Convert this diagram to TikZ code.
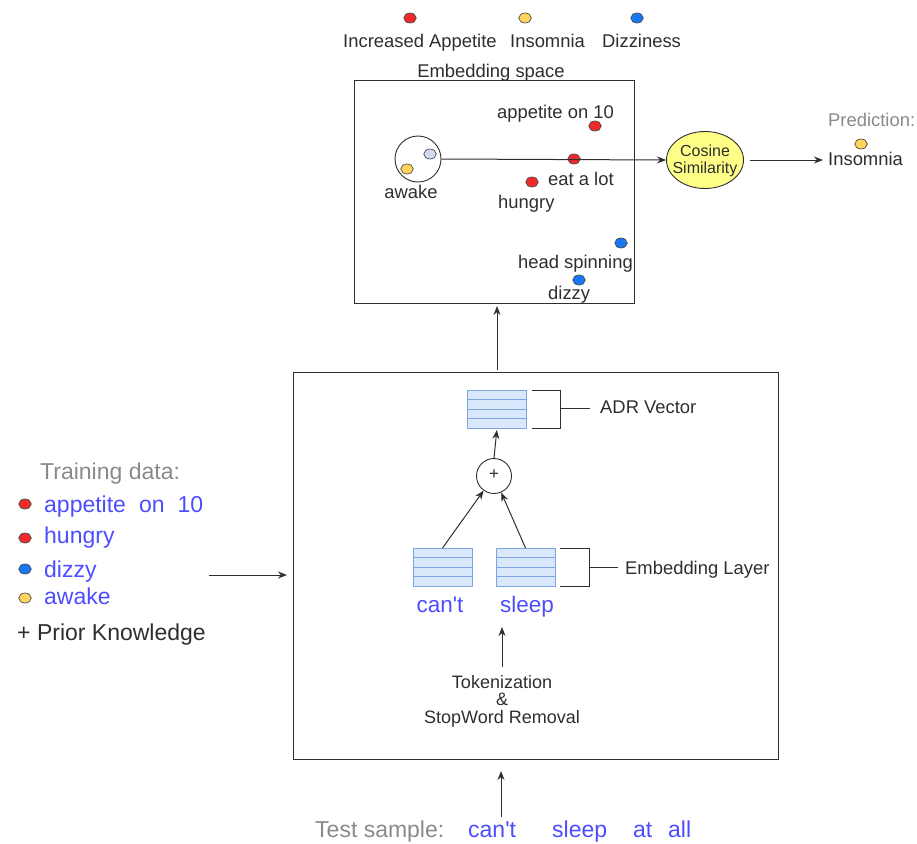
\documentclass[tikz,border=0pt]{standalone}
\usepackage{fontspec}
\setmainfont{Liberation Sans}[Ligatures=TeXOff]
\usetikzlibrary{arrows.meta,shapes.geometric}

\definecolor{txt}{HTML}{2E2E2E}
\definecolor{wordblue}{HTML}{4D4DFF}
\definecolor{lblgray}{HTML}{8A8A8A}
\definecolor{dotred}{HTML}{EE2A2A}
\definecolor{dotyellow}{HTML}{FFD35C}
\definecolor{dotblue}{HTML}{1877F2}
\definecolor{dotpale}{HTML}{D0DCEE}
\definecolor{vecfill}{HTML}{DAE8FC}
\definecolor{vecdraw}{HTML}{7EA6E0}
\definecolor{cosfill}{HTML}{FFFF88}

\tikzset{
  dot/.style={ellipse, draw=black!70, line width=0.7pt, minimum width=12.5pt,
    minimum height=10pt, inner sep=0pt, outer sep=0pt},
  lbl/.style={font=\fontsize{18.4}{20}\selectfont, text=txt, inner sep=0pt,
    anchor=base west},
  biglbl/.style={font=\fontsize{23}{25}\selectfont, inner sep=0pt,
    anchor=base west},
  smalllbl/.style={font=\fontsize{18}{19}\selectfont, text=txt, inner sep=0pt,
    anchor=base},
  frame/.style={draw=txt, line width=1pt, inner sep=0pt, outer sep=0pt},
  arr/.style={-{Stealth[length=9pt,width=7pt]}, line width=1pt, draw=txt},
  conn/.style={line width=1pt, draw=txt},
  vecbox/.style={rectangle, draw=vecdraw, fill=vecfill, line width=1pt,
    minimum width=59pt, minimum height=38pt, inner sep=0pt, outer sep=0pt,
    path picture={\foreach \k in {1,2,3}{
      \draw[vecdraw, line width=1pt]
        ([yshift=-\k*9.5pt]path picture bounding box.north west) --
        ([yshift=-\k*9.5pt]path picture bounding box.north east);}}},
}

\begin{document}
\begin{tikzpicture}[x=1pt,y=-1pt]
\useasboundingbox (0,0) rectangle (917,843);

% ---------- legend of classes ----------
\node[dot, fill=dotred]    (lgA) at (410,18) {};
\node[dot, fill=dotyellow] (lgI) at (525,18) {};
\node[dot, fill=dotblue]   (lgD) at (637,18) {};
\node[lbl] (lgAt) at (343,48) {Increased Appetite};
\node[lbl] (lgIt) at (510,48) {Insomnia};
\node[lbl] (lgDt) at (602,48) {Dizziness};

% ---------- embedding space ----------
\node[lbl, anchor=base] (embt) at (491,77) {Embedding space};
\node[frame, minimum width=280pt, minimum height=223pt] (emb) at (494,191.5) {};

\node[circle, draw=txt, line width=0.9pt, minimum size=46pt, inner sep=0pt] (clus) at (418,159) {};
\node[dot, fill=dotpale]   (cpale) at (430,154) {};
\node[dot, fill=dotyellow] (cyel)  at (407,169) {};
\node[lbl, anchor=base] (awk) at (411,198) {awake};

\node[dot, fill=dotred] (dApp) at (595,126) {};
\node[lbl] (tApp) at (497,118) {appetite on 10};
\node[dot, fill=dotred] (dEat) at (574,159) {};
\node[lbl] (tEat) at (548,185) {eat a lot};
\node[dot, fill=dotred] (dHun) at (532,182) {};
\node[lbl] (tHun) at (498,208) {hungry};
\node[dot, fill=dotblue] (dHead) at (621,243) {};
\node[lbl] (tHead) at (518,268) {head spinning};
\node[dot, fill=dotblue] (dDiz) at (579,280) {};
\node[lbl] (tDiz) at (548,299) {dizzy};

% ---------- similarity and prediction ----------
\node[ellipse, draw=txt, fill=cosfill, line width=0.9pt, minimum width=77pt,
  minimum height=57pt, inner sep=0pt] (cos) at (705,160) {};
\node[font=\fontsize{16}{17}\selectfont, text=txt, align=center, inner sep=0pt]
  (cost) at (705,161) {Cosine\\Similarity};

\node[lbl, text=lblgray] (pred) at (828,126) {Prediction:};
\node[dot, fill=dotyellow] (dPred) at (861,144) {};
\node[lbl] (insom) at (828,165) {Insomnia};

\draw[arr] (clus.east) -- (cos.west);
\coordinate (predArr) at (823,160);
\draw[arr, shorten <=6pt] (cos.east) -- (predArr);

% ---------- model block ----------
\node[frame, minimum width=485pt, minimum height=387pt] (big) at (535.5,565.5) {};
\coordinate (upTop) at (497,306);
\draw[arr] (upTop |- big.north) ++(0,-2) -- (upTop);

\node[vecbox] (adr) at (497,409) {};
\draw[conn] (532,390) -- (560,390) -- (560,428) -- (532,428);
\node[lbl] (adrt) at (600,413) {ADR Vector};
\draw[conn] (560,408) -- (590,408);

\node[circle, draw=txt, line width=0.9pt, minimum size=35pt, inner sep=0pt] (plus) at (494,476) {};
\node[font=\fontsize{17}{18}\selectfont, text=txt, inner sep=0pt] (plust) at (494,475) {+};
\draw[arr, shorten >=2pt] (plus.north) -- (adr.south);

\node[vecbox] (cantv)  at (442.5,567) {};
\node[vecbox] (sleepv) at (525.5,567) {};
\draw[arr] (cantv.north) -- (plus);
\draw[arr] (sleepv.north) -- (plus);
\draw[conn] (560,548) -- (589,548) -- (589,586) -- (560,586);
\node[lbl] (embl) at (625,574) {Embedding Layer};
\draw[conn] (589,567) -- (618,567);

\node[lbl, text=wordblue, font=\fontsize{22.5}{24}\selectfont, anchor=base] (cantw) at (440,612) {can't};
\node[lbl, text=wordblue, font=\fontsize{22.5}{24}\selectfont, anchor=base] (sleepw) at (527,612) {sleep};

\node[smalllbl] (tok1) at (502,688) {Tokenization};
\node[smalllbl] (tok2) at (502,705) {\&};
\node[smalllbl] (tok3) at (502,723) {StopWord Removal};
\coordinate (tokArr) at (502,667);
\draw[arr] (tokArr) -- ++(0,-40);

% ---------- training data ----------
\node[biglbl, text=lblgray] (trt) at (40,479) {Training data:};
\node[dot, fill=dotred]    (tr1) at (25,504) {};
\node[dot, fill=dotred]    (tr2) at (25,538) {};
\node[dot, fill=dotblue]   (tr3) at (25,569) {};
\node[dot, fill=dotyellow] (tr4) at (25,598) {};
\node[biglbl, text=wordblue] (tr1t) at (44,512) {appetite\hspace{13pt}on\hspace{13pt}10};
\node[biglbl, text=wordblue] (tr2t) at (44,543) {hungry};
\node[biglbl, text=wordblue] (tr3t) at (44,577) {dizzy};
\node[biglbl, text=wordblue] (tr4t) at (44,604) {awake};
\node[biglbl, text=txt] (prior) at (17,640) {+ Prior Knowledge};
\coordinate (trArr) at (209,575);
\draw[arr, shorten >=6pt] (trArr) -- (trArr -| big.west);

% ---------- test sample ----------
\node[biglbl, text=lblgray] (tst) at (315,837) {Test sample:};
\node[biglbl, text=wordblue] (ts1) at (468,837) {can't};
\node[biglbl, text=wordblue] (ts2) at (552,837) {sleep};
\node[biglbl, text=wordblue] (ts3) at (633,837) {at};
\node[biglbl, text=wordblue] (ts4) at (668,837) {all};
\coordinate (tsArr) at (501,817);
\draw[arr, shorten >=12pt] (tsArr) -- (tsArr |- big.south);
\end{tikzpicture}
\end{document}
